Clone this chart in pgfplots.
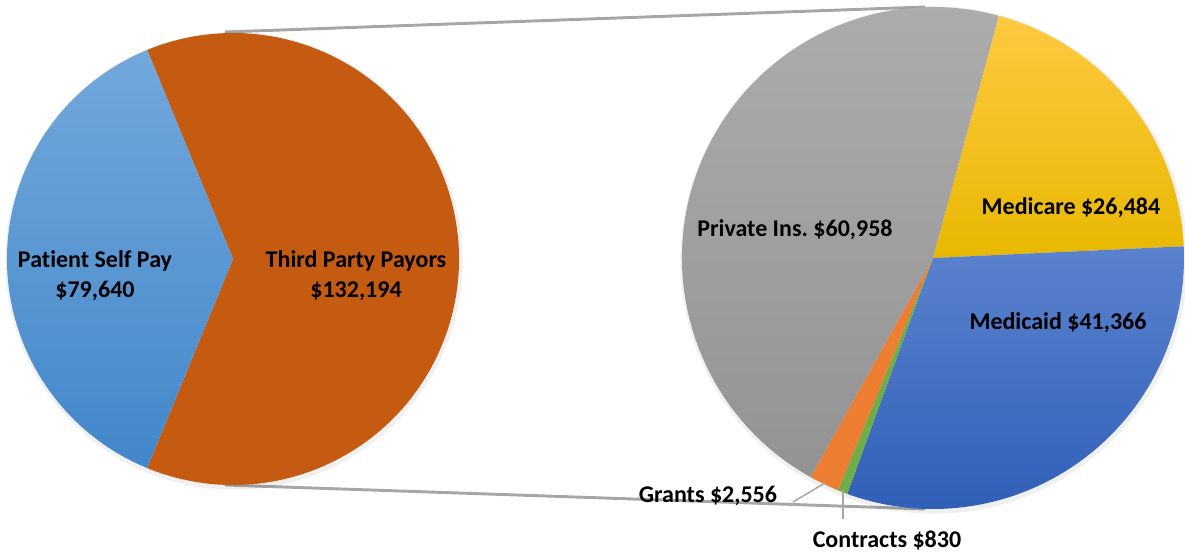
\documentclass[border=0pt]{standalone}
\usepackage{pgfplots}
\pgfplotsset{compat=1.18}
\usepackage{fontspec}
\setmainfont{Carlito}[Ligatures=NoCommon]
\frenchspacing

% values (USD)
\def\vSelf{79640}
\def\vThird{132194}
\def\vPrivate{60958}
\def\vMedicare{26484}
\def\vMedicaid{41366}
\def\vContracts{830}
\def\vGrants{2556}

% angles of the main pie (self pay centred on the left)
\edef\aSelf{\fpeval{360*\vSelf/(\vSelf+\vThird)}}
\edef\lA{\fpeval{180-\aSelf/2}}
\edef\lB{\fpeval{180+\aSelf/2}}
\edef\lC{\fpeval{\lA+360}}

% angles of the secondary pie, clockwise from the private/medicare edge
\edef\tR{\fpeval{\vPrivate+\vMedicare+\vMedicaid+\vContracts+\vGrants}}
\edef\rA{74.8}
\edef\rB{\fpeval{\rA-360*\vMedicare/\tR}}
\edef\rC{\fpeval{\rB-360*\vMedicaid/\tR}}
\edef\rD{\fpeval{\rC-360*\vContracts/\tR}}
\edef\rE{\fpeval{\rD-360*\vGrants/\tR}}
\edef\rF{\fpeval{\rA-360}}

\def\rL{169.5pt}
\def\rR{188.25pt}

\definecolor{selftop}{HTML}{72A8DC}
\definecolor{selfbot}{HTML}{4287CA}
\definecolor{third}{HTML}{C55A11}
\definecolor{privtop}{HTML}{ADADAD}
\definecolor{privbot}{HTML}{939393}
\definecolor{caretop}{HTML}{FFC942}
\definecolor{carebot}{HTML}{E8B800}
\definecolor{aidtop}{HTML}{5B82CE}
\definecolor{aidbot}{HTML}{2F5EB8}
\definecolor{grants}{HTML}{ED7D31}
\definecolor{contracts}{HTML}{70AD47}
\definecolor{conn}{HTML}{A6A6A6}

\newcommand\lbl{\bfseries\fontsize{18}{22.5}\selectfont}

\begin{document}
\begin{tikzpicture}
\begin{axis}[
  width=888.75pt, height=417pt, scale only axis,
  xmin=0, xmax=1185, ymin=0, ymax=556,
  hide axis, clip=false,
]
  \coordinate (bbSW) at (axis cs:0,0);
  \coordinate (bbNE) at (axis cs:1185,556);

  % connector lines
  \draw[conn, line width=2.2pt] (axis cs:225,524) -- (axis cs:925,549);
  \draw[conn, line width=2.2pt] (axis cs:225,71) -- (axis cs:925,47);

  % soft shadows
  \fill[black, opacity=0.06] (axis cs:234,295) circle[radius=171.5pt];
  \fill[black, opacity=0.06] (axis cs:934,296) circle[radius=190.25pt];

  % main pie
  \fill[third] (axis cs:233,297) -- ++(\lB:\rL) arc[start angle=\lB, end angle=\lC, radius=\rL] -- cycle;
  \shade[top color=selftop, bottom color=selfbot] (axis cs:233,297) -- ++(\lA:\rL) arc[start angle=\lA, end angle=\lB, radius=\rL] -- cycle;

  % secondary pie
  \shade[top color=caretop, bottom color=carebot] (axis cs:933,298) -- ++(\rA:\rR) arc[start angle=\rA, end angle=\rB, radius=\rR] -- cycle;
  \shade[top color=aidtop, bottom color=aidbot] (axis cs:933,298) -- ++(\rB:\rR) arc[start angle=\rB, end angle=\rC, radius=\rR] -- cycle;
  \fill[contracts] (axis cs:933,298) -- ++(\rC:\rR) arc[start angle=\rC, end angle=\rD, radius=\rR] -- cycle;
  \fill[grants] (axis cs:933,298) -- ++(\rD:\rR) arc[start angle=\rD, end angle=\rE, radius=\rR] -- cycle;
  \shade[top color=privtop, bottom color=privbot] (axis cs:933,298) -- ++(\rE:\rR) arc[start angle=\rE, end angle=\rF, radius=\rR] -- cycle;

  % leader lines
  \draw[conn, line width=1.1pt] (axis cs:793,54) -- (axis cs:825,73);
  \draw[conn, line width=1.1pt] (axis cs:843,37) -- (axis cs:843,66);

  % labels
  \node[font=\lbl, align=center] at (axis cs:95,280) {Patient Self Pay\\\$79,640};
  \node[font=\lbl, align=center] at (axis cs:356,280) {Third Party Payors\\\$132,194};
  \node[font=\lbl] at (axis cs:795,326) {Private Ins. \$60,958};
  \node[font=\lbl] at (axis cs:1071,348) {Medicare \$26,484};
  \node[font=\lbl] at (axis cs:1058,233) {Medicaid \$41,366};
  \node[font=\lbl] at (axis cs:708,60) {Grants \$2,556};
  \node[font=\lbl] at (axis cs:887,16) {Contracts \$830};
\end{axis}
\pgfresetboundingbox
\path (bbSW) rectangle (bbNE);
\end{tikzpicture}
\end{document}
